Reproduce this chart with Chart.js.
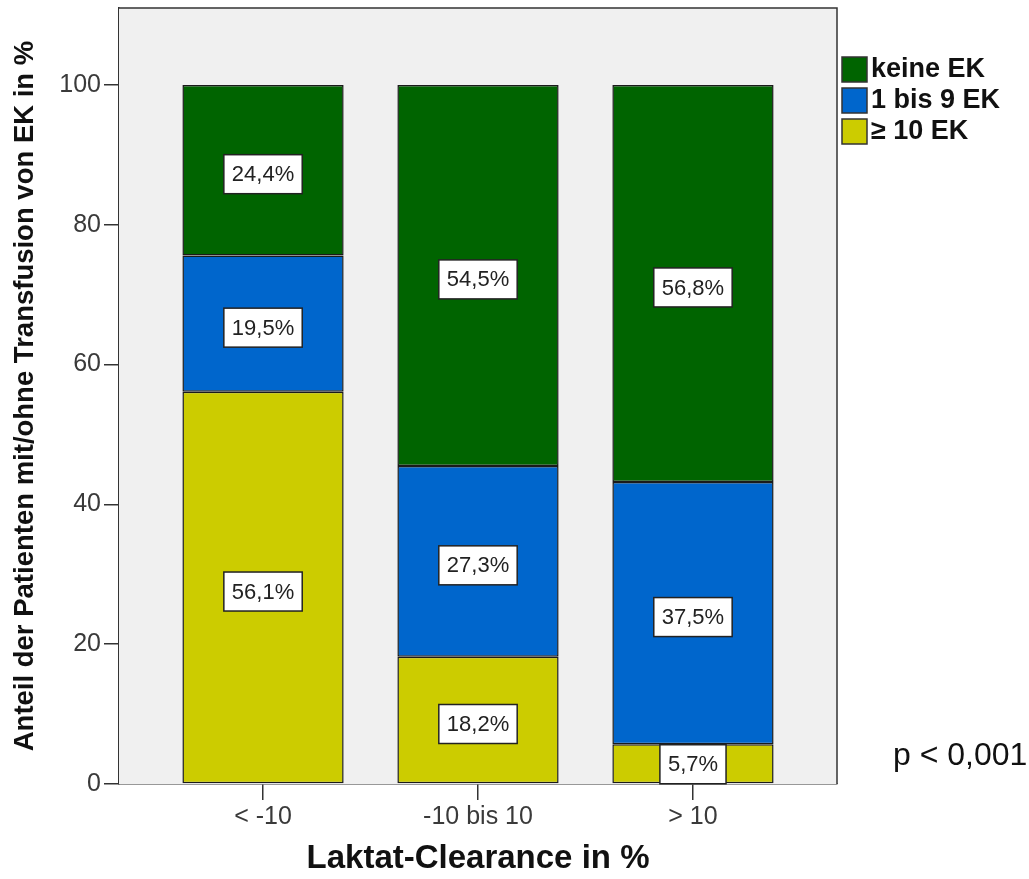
<!DOCTYPE html>
<html lang="de">
<head>
<meta charset="utf-8">
<title>Laktat-Clearance und Transfusion von EK</title>
<script src="https://cdn.jsdelivr.net/npm/chart.js@4.4.1/dist/chart.umd.min.js"></script>
<style>
  html, body { margin: 0; padding: 0; background: #ffffff; }
  #wrap { width: 1029px; height: 879px; }
</style>
</head>
<body>
<div id="wrap"><canvas id="chart" width="1029" height="879"></canvas></div>
<script>
// Gruppen der Laktat-Clearance
const categories = ['< -10', '-10 bis 10', '> 10'];

// Anteil der Patienten je Gruppe (in %)
const keineEK = [24.4, 54.5, 56.8];
const einsBisNeunEK = [19.5, 27.3, 37.5];
const zehnPlusEK = [56.1, 18.2, 5.7];

// Beschriftung der y-Achse
const yTicks = [0, 20, 40, 60, 80, 100];

const FONT = '"Liberation Sans", Arial, Helvetica, sans-serif';
const AXIS_COLOR = '#333333';

const toPoints = arr => arr.map((v, i) => ({ x: i, y: v }));

// Plot background and frame
const plotFrame = {
  id: 'plotFrame',
  beforeDatasetsDraw(chart) {
    const { ctx, chartArea: a } = chart;
    ctx.save();
    ctx.fillStyle = '#f0f0f0';
    ctx.fillRect(a.left, a.top, a.right - a.left, a.bottom - a.top);
    ctx.restore();
  },
  afterDraw(chart) {
    const { ctx, chartArea: a } = chart;
    ctx.save();
    ctx.strokeStyle = AXIS_COLOR;
    ctx.lineWidth = 1.5;
    ctx.beginPath();
    ctx.moveTo(a.left, a.top);
    ctx.lineTo(a.right, a.top);
    ctx.lineTo(a.right, a.bottom);
    ctx.stroke();
    ctx.restore();
  }
};

// Percentage boxes in the middle of every segment
const segmentLabels = {
  id: 'segmentLabels',
  afterDatasetsDraw(chart) {
    const { ctx } = chart;
    ctx.save();
    ctx.font = '22px ' + FONT;
    ctx.textAlign = 'center';
    ctx.textBaseline = 'middle';
    chart.data.datasets.forEach((ds, di) => {
      const meta = chart.getDatasetMeta(di);
      meta.data.forEach((bar, i) => {
        const v = ds.data[i].y;
        const text = v.toFixed(1).replace('.', ',') + '%';
        const cy = Math.min((bar.y + bar.base) / 2 + 4, bar.base - 19);
        const w = ctx.measureText(text).width + 16;
        const h = 39;
        ctx.fillStyle = '#ffffff';
        ctx.fillRect(bar.x - w / 2, cy - h / 2, w, h);
        ctx.strokeStyle = '#222222';
        ctx.lineWidth = 1.5;
        ctx.strokeRect(bar.x - w / 2, cy - h / 2, w, h);
        ctx.fillStyle = '#222222';
        ctx.fillText(text, bar.x, cy + 1);
      });
    });
    ctx.restore();
  }
};

// Legend at the right and significance note
const sideNotes = {
  id: 'sideNotes',
  afterDraw(chart) {
    const { ctx } = chart;
    const order = [2, 1, 0];
    ctx.save();
    ctx.textBaseline = 'middle';
    ctx.textAlign = 'left';
    order.forEach((di, k) => {
      const ds = chart.data.datasets[di];
      const y = 57 + k * 31;
      ctx.fillStyle = ds.backgroundColor;
      ctx.fillRect(842, y, 25, 25);
      ctx.strokeStyle = '#333333';
      ctx.lineWidth = 1.5;
      ctx.strokeRect(842, y, 25, 25);
      ctx.fillStyle = '#111111';
      ctx.font = 'bold 27px ' + FONT;
      ctx.fillText(ds.label, 871, y + 13);
    });
    ctx.font = '32px ' + FONT;
    ctx.fillStyle = '#111111';
    ctx.fillText('p < 0,001', 893, 756);
    ctx.restore();
  }
};

const barStyle = {
  borderColor: '#1a1a1a',
  borderWidth: 1.5,
  borderSkipped: false,
  barPercentage: 0.75,
  categoryPercentage: 1.0
};

new Chart(document.getElementById('chart'), {
  type: 'bar',
  data: {
    datasets: [
      Object.assign({ label: '\u2265 10 EK', data: toPoints(zehnPlusEK), backgroundColor: '#cccc00' }, barStyle),
      Object.assign({ label: '1 bis 9 EK', data: toPoints(einsBisNeunEK), backgroundColor: '#0066cc' }, barStyle),
      Object.assign({ label: 'keine EK', data: toPoints(keineEK), backgroundColor: '#006400' }, barStyle)
    ]
  },
  options: {
    responsive: false,
    animation: false,
    layout: { padding: { top: 8, right: 192, bottom: 0, left: 0 } },
    plugins: {
      legend: { display: false },
      tooltip: { enabled: false }
    },
    scales: {
      x: {
        type: 'linear',
        stacked: true,
        offset: false,
        min: -0.67,
        max: 2.67,
        afterBuildTicks(scale) {
          scale.ticks = categories.map((c, i) => ({ value: i }));
        },
        afterFit(scale) {
          scale.height = 95;
          scale.paddingLeft = 0;
          scale.paddingRight = 0;
        },
        ticks: {
          callback: v => categories[v],
          font: { family: FONT, size: 25 },
          color: '#3a3a3a',
          padding: 2,
          maxRotation: 0,
          autoSkip: false
        },
        grid: {
          offset: false,
          drawOnChartArea: false,
          drawTicks: true,
          tickLength: 16,
          color: AXIS_COLOR,
          lineWidth: 1.5
        },
        border: { display: true, color: AXIS_COLOR, width: 1.5 },
        title: {
          display: true,
          text: 'Laktat-Clearance in %',
          font: { family: FONT, size: 33, weight: 'bold' },
          color: '#111111',
          padding: { top: 0, bottom: 0 }
        }
      },
      y: {
        type: 'linear',
        stacked: true,
        min: 0,
        max: 111,
        afterBuildTicks(scale) {
          scale.ticks = yTicks.map(v => ({ value: v }));
        },
        afterFit(scale) {
          scale.width = 119;
          scale.paddingTop = 0;
          scale.paddingBottom = 0;
        },
        ticks: {
          font: { family: FONT, size: 25 },
          color: '#3a3a3a',
          padding: 3
        },
        grid: {
          drawOnChartArea: false,
          drawTicks: true,
          tickLength: 15,
          color: AXIS_COLOR,
          lineWidth: 1.5
        },
        border: { display: true, color: AXIS_COLOR, width: 1.5 },
        title: {
          display: true,
          text: 'Anteil der Patienten mit/ohne Transfusion von EK in %',
          font: { family: FONT, size: 27.5, weight: 'bold' },
          color: '#111111',
          padding: { top: 9, bottom: 0 }
        }
      }
    }
  },
  plugins: [plotFrame, segmentLabels, sideNotes]
});
</script>
</body>
</html>
